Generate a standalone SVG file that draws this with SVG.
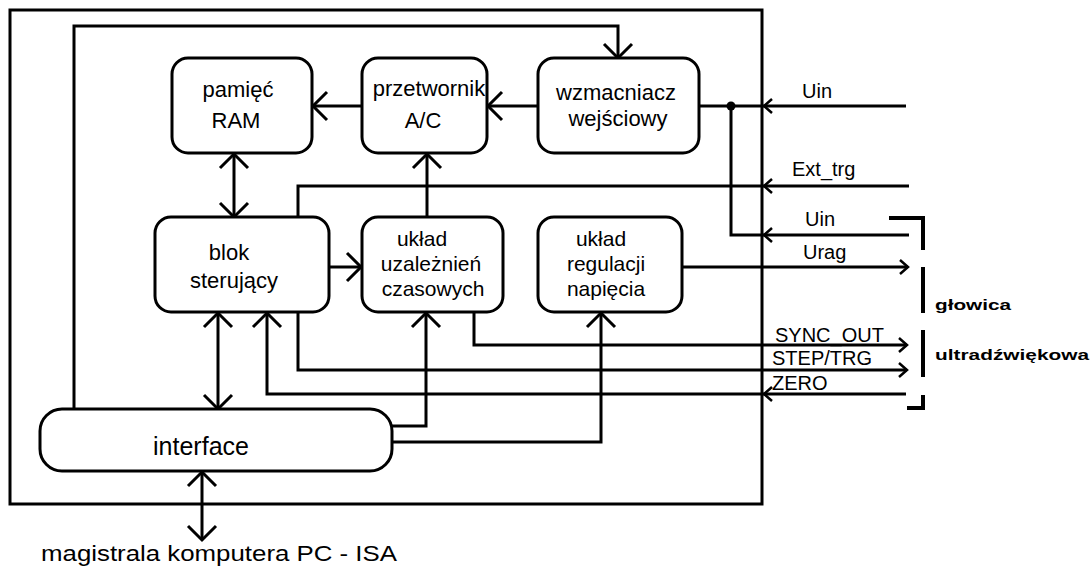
<svg xmlns="http://www.w3.org/2000/svg" width="1092" height="566" viewBox="0 0 1092 566">
<style>
.box{fill:#fff;stroke:#000;stroke-width:3}
.ln{fill:none;stroke:#000;stroke-width:3}
.t{font-family:"Liberation Sans",Arial,sans-serif;font-size:22px;fill:#000;text-anchor:middle}
.t3{font-size:21px}
.l{font-family:"Liberation Sans",Arial,sans-serif;font-size:20px;fill:#000}
.s{font-family:"Liberation Sans",Arial,sans-serif;font-size:15px;font-weight:bold;fill:#000}
</style>
<defs>
<marker id="big" markerUnits="userSpaceOnUse" markerWidth="34" markerHeight="34" viewBox="-17 -17 34 34" refX="0" refY="0" orient="auto-start-reverse" overflow="visible">
<path d="M-14,-14 L0,0 L-14,14" fill="none" stroke="#000" stroke-width="3"/>
</marker>
<marker id="sm" markerUnits="userSpaceOnUse" markerWidth="20" markerHeight="20" viewBox="-10 -10 20 20" refX="0" refY="0" orient="auto-start-reverse" overflow="visible">
<path d="M-8,-7 L0,0 L-8,7" fill="none" stroke="#000" stroke-width="2.5"/>
</marker>
</defs>
<rect width="1092" height="566" fill="#fff"/>
<rect id="frame" x="10" y="10" width="752" height="494" fill="none" stroke="#000" stroke-width="3"/>

<g id="connectors" class="ln">
<path d="M74,409 V26 H618 V58" marker-end="url(#big)"/>
<path d="M538,106 H488" marker-end="url(#big)"/>
<path d="M362,106 H313" marker-end="url(#big)"/>
<path d="M234,154 V217" marker-start="url(#big)" marker-end="url(#big)"/>
<path d="M427,217 V154" marker-end="url(#big)"/>
<path d="M329,267 H361" marker-end="url(#big)"/>
<path d="M909,186 H764" marker-end="url(#sm)"/>
<path d="M764,186 H298 V217"/>
<path d="M906,106 H764" marker-end="url(#sm)"/>
<path d="M764,106 H699"/>
<path d="M909,235 H764" marker-end="url(#sm)"/>
<path d="M764,235 H731 V106"/>
<path d="M682,267 H908" marker-end="url(#sm)"/>
<path d="M474,313 V345 H907" marker-end="url(#sm)"/>
<path d="M298,313 V370 H907" marker-end="url(#sm)"/>
<path d="M906,394 H764" marker-end="url(#sm)"/>
<path d="M764,394 H267 V313" marker-end="url(#big)"/>
<path d="M218,313 V409" marker-start="url(#big)" marker-end="url(#big)"/>
<path d="M392,426 H426 V313" marker-end="url(#big)"/>
<path d="M392,442 H601 V313" marker-end="url(#big)"/>
<path d="M202,472 V540" marker-start="url(#big)" marker-end="url(#big)"/>
<circle cx="731" cy="106" r="4.5" fill="#000" stroke="none"/>
</g>

<g id="head-bracket">
<path d="M889,218 H923 V250 M923,267 V313 M923,330 V377 M923,395 V408 H907" fill="none" stroke="#000" stroke-width="4"/>
<text class="s" x="935" y="310" textLength="76" lengthAdjust="spacingAndGlyphs">głowica</text>
<text class="s" x="935" y="360" textLength="154" lengthAdjust="spacingAndGlyphs">ultradźwiękowa</text>
</g>

<g id="pamiec">
<rect class="box" x="172" y="58" width="140" height="95" rx="16"/>
<text class="t" x="238" y="97">pamięć</text>
<text class="t" x="236" y="128">RAM</text>
</g>
<g id="przetwornik">
<rect class="box" x="362" y="58" width="125" height="95" rx="16"/>
<text class="t" x="429" y="96">przetwornik</text>
<text class="t" x="423" y="128">A/C</text>
</g>
<g id="wzmacniacz">
<rect class="box" x="538" y="58" width="161" height="95" rx="16"/>
<text class="t" x="616" y="100">wzmacniacz</text>
<text class="t" x="618" y="126">wejściowy</text>
</g>
<g id="blok">
<rect class="box" x="155" y="217" width="174" height="95" rx="16"/>
<text class="t" x="229" y="260">blok</text>
<text class="t" x="234" y="288">sterujący</text>
</g>
<g id="uklad-uzaleznien">
<rect class="box" x="362" y="217" width="141" height="95" rx="16"/>
<text class="t t3" x="422" y="246">układ</text>
<text class="t t3" x="431" y="271">uzależnień</text>
<text class="t t3" x="433" y="296">czasowych</text>
</g>
<g id="uklad-regulacji">
<rect class="box" x="538" y="217" width="144" height="95" rx="16"/>
<text class="t t3" x="601" y="246">układ</text>
<text class="t t3" x="606" y="271">regulacji</text>
<text class="t t3" x="606" y="296">napięcia</text>
</g>
<g id="interface">
<rect class="box" x="40" y="409" width="352" height="62" rx="22"/>
<text class="t" x="201" y="455" style="font-size:25px">interface</text>
</g>

<g id="labels">
<text class="l" x="802" y="98">Uin</text>
<text class="l" x="792" y="176">Ext_trg</text>
<text class="l" x="805" y="226">Uin</text>
<text class="l" x="803" y="259">Urag</text>
<text class="l" x="775" y="342">SYNC_OUT</text>
<text class="l" x="772" y="365">STEP/TRG</text>
<text class="l" x="772" y="390">ZERO</text>
<text class="l" x="41" y="561" style="font-size:22px" textLength="356" lengthAdjust="spacingAndGlyphs">magistrala komputera PC - ISA</text>
</g>
</svg>
